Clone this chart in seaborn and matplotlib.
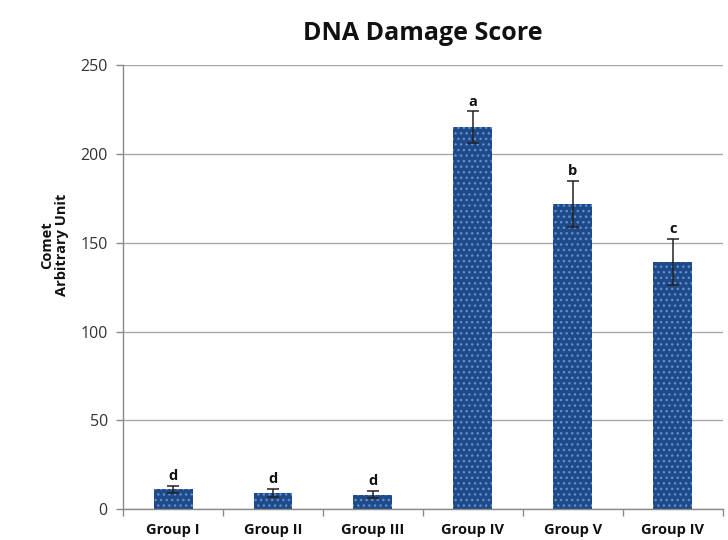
import numpy as np
import pandas as pd
import matplotlib
matplotlib.use("Agg")
import matplotlib.pyplot as plt
import seaborn as sns

# Comet assay damage scores per group
groups = ["Group I", "Group II", "Group III", "Group IV", "Group V", "Group IV"]
scores = [11, 9, 8, 215, 172, 139]
errors = [2, 2.5, 2, 9, 13, 13]
letters = ["d", "d", "d", "a", "b", "c"]

sns.set_theme(style="white")
plt.rcParams["font.family"] = ["Open Sans", "DejaVu Sans"]
plt.rcParams["hatch.linewidth"] = 1.0

fig = plt.figure(figsize=(7.28, 5.40), dpi=100)
ax = fig.add_axes([0.169, 0.0574, 0.824, 0.8216])

df = pd.DataFrame({"pos": np.arange(len(groups)), "score": scores})
sns.barplot(data=df, x="pos", y="score", ax=ax, width=0.39,
            color="#1f4a88", saturation=1, errorbar=None)

for p in ax.patches:
    p.set_hatch("...")
    p.set_edgecolor("#5f8fd0")
    p.set_linewidth(0)

ax.errorbar(df["pos"], scores, yerr=errors, fmt="none", ecolor="#222222",
            elinewidth=1.1, capsize=4.5, capthick=1.1, zorder=5)

for x, y, e, t in zip(df["pos"], scores, errors, letters):
    ax.annotate(t, (x, y + e), xytext=(0, 2), textcoords="offset points",
                ha="center", va="bottom", fontsize=10.5, fontweight="bold",
                color="#111111")

ax.set_ylim(0, 250)
ax.set_xlim(-0.5, len(groups) - 0.5)
ax.set_yticks(np.arange(0, 251, 50))
ax.yaxis.grid(True, color="#a8a8a8", linewidth=1)
ax.set_axisbelow(True)
ax.set_xticks(np.arange(len(groups)))
ax.set_xticklabels(groups, fontweight="bold", fontsize=10.5, color="#111111")
ax.set_xticks(np.arange(len(groups) + 1) - 0.5, minor=True)
ax.tick_params(axis="x", which="major", length=0, pad=10)
ax.tick_params(axis="x", which="minor", length=5, width=1, color="#8a8a8a",
               direction="out", bottom=True)
ax.tick_params(axis="y", length=5, width=1, color="#8a8a8a", direction="out",
               left=True, labelsize=11.5, labelcolor="#333333", pad=6)

for side in ["top", "right"]:
    ax.spines[side].set_visible(False)
for side in ["left", "bottom"]:
    ax.spines[side].set_color("#8a8a8a")
    ax.spines[side].set_linewidth(1)

ax.set_xlabel("")
ax.set_ylabel("Comet\nArbitrary Unit", fontsize=10.5, fontweight="bold",
              color="#111111", linespacing=1.1)
ax.yaxis.set_label_coords(-0.09, 0.595)
ax.set_title("DNA Damage Score", fontsize=18, fontweight="bold",
             color="#111111", pad=18)

fig.savefig("out.png", dpi=100)
